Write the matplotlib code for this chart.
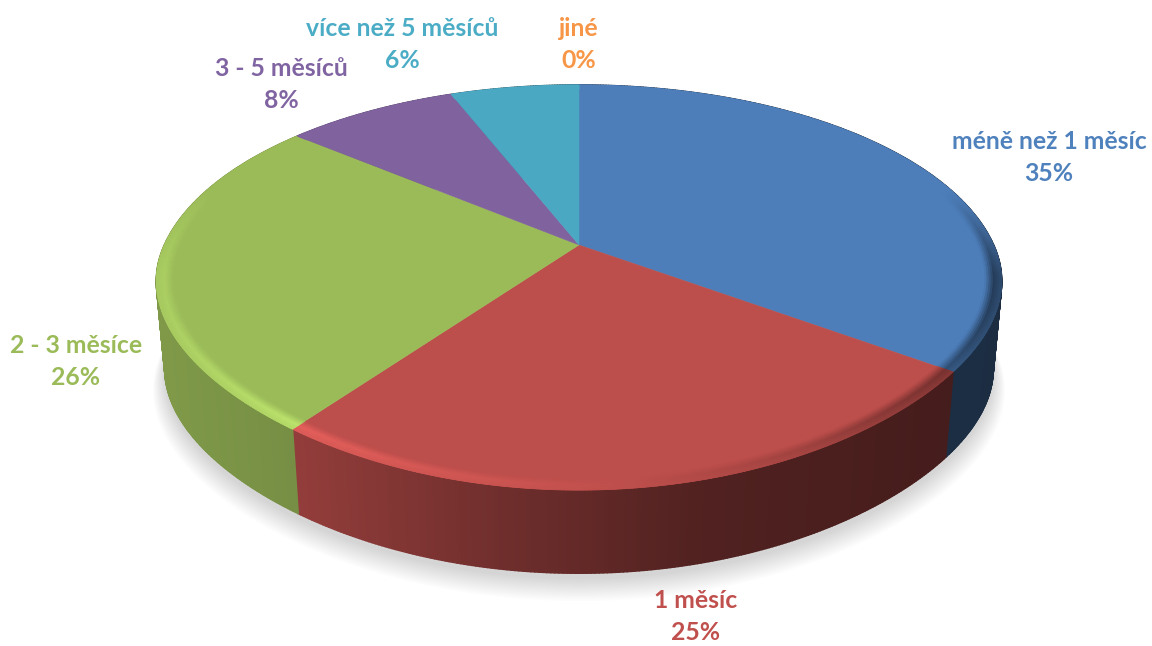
import numpy as np
import matplotlib
matplotlib.use('Agg')
import matplotlib.pyplot as plt
from matplotlib.collections import PolyCollection
from matplotlib.colors import to_rgb

categories = ['méně než 1 měsíc', '1 měsíc', '2 - 3 měsíce', '3 - 5 měsíců', 'více než 5 měsíců', 'jiné']
shares = [35, 25, 26, 8, 6, 0]
percent_labels = ['35%', '25%', '26%', '8%', '6%', '0%']

colors = ['#4f81bd', '#c0504d', '#9bbb59', '#8064a2', '#4bacc6', '#f79646']
top_colors = ['#4d7eba', '#bc4e4b', '#9bbb59', '#80629e', '#4ba8c3', '#f79646']
# centre x and text baseline y of the first label line
label_pos = [(1049, 149), (696, 608), (76, 353), (281, 76), (402, 36), (579, 36)]

# perspective of the pie disk, in pixels of the picture
CX, CY = 579, 245
A, B, P = 414.6, 193.6, 0.21
DEPTH, BOTTOM_SCALE = 88, 0.98


def project(angle, r=1.0, scale=1.0, dy=0.0):
    # angle goes clockwise from the top of the pie
    # the near side of the reference is a bit flatter than a true ellipse
    pull = np.where(np.cos(angle) < 0, 0.022 * np.sin(2 * angle) ** 2, 0.0)
    u = r * (1 - pull) * np.sin(angle)
    v = r * (1 - pull) * np.cos(angle)
    w = 1 + P * v
    return CX + scale * A * u / w, CY + dy - scale * B * v / w


def side_shade(x):
    return np.interp(x, [160, 300, 500, 700, 950, 1000], [0.82, 0.76, 0.58, 0.42, 0.36, 0.35])


def rim_shade(x):
    return np.interp(x, [155, 300, 450, 600, 800, 950, 1003], [1.10, 1.22, 1.12, 1.03, 0.85, 0.62, 0.45])


def mix(base, k):
    return tuple(np.clip(np.array(base) * k, 0, 1))


fig = plt.figure(figsize=(11.52, 6.46), dpi=100)
ax = fig.add_axes([0, 0, 1, 1])
ax.set_xlim(0, 1152)
ax.set_ylim(646, 0)
ax.axis('off')

# soft shadow under the pie
full = np.linspace(0, 2 * np.pi, 360)
for k in np.linspace(0, 1, 14):
    sx, sy = project(full, scale=BOTTOM_SCALE + 0.028 * (1 - k), dy=DEPTH + 6 + 15 * (1 - k))
    ax.fill(sx, sy, color='black', alpha=0.011, lw=0, zorder=1)

edges = np.cumsum([0] + shares) / sum(shares) * 2 * np.pi

# walls
for i in range(len(shares)):
    if shares[i] == 0:
        continue
    base = to_rgb(colors[i])
    n = max(int(shares[i] * 8), 2)
    t = np.linspace(edges[i], edges[i + 1], n + 1)
    tx, ty = project(t)
    bx, by = project(t, scale=BOTTOM_SCALE, dy=DEPTH)
    quads = []
    cols = []
    for j in range(n):
        quads.append([(tx[j], ty[j]), (tx[j + 1], ty[j + 1]), (bx[j + 1], by[j + 1]), (bx[j], by[j])])
        cols.append(mix(base, side_shade((tx[j] + tx[j + 1]) / 2)))
    ax.add_collection(PolyCollection(quads, facecolors=cols, edgecolors=cols, linewidths=1.2, zorder=2))

# top face
for i in range(len(shares)):
    if shares[i] == 0:
        continue
    t = np.linspace(edges[i], edges[i + 1], 200)
    x, y = project(t)
    ax.fill(np.r_[CX, x], np.r_[CY, y], color=top_colors[i], lw=0.3, zorder=3)

# bevelled rim on the near side
radii = np.linspace(0.962, 1.0, 9)
for i in range(len(shares)):
    if shares[i] == 0:
        continue
    base = np.array(to_rgb(top_colors[i]))
    n = max(int(shares[i] * 8), 2)
    t = np.linspace(edges[i], edges[i + 1], n + 1)
    quads = []
    cols = []
    for q in range(len(radii) - 1):
        x0, y0 = project(t, r=radii[q])
        x1, y1 = project(t, r=radii[q + 1])
        strength = np.interp((q + 0.5) / (len(radii) - 1), [0, 0.55, 1], [0, 1, 0.75])
        for j in range(n):
            mid = (t[j] + t[j + 1]) / 2
            weight = np.clip((0.3 - np.cos(mid)) / 0.45, 0, 1) * strength
            k = 1 + (rim_shade((x0[j] + x0[j + 1]) / 2) - 1) * weight
            c = mix(base, k)
            quads.append([(x0[j], y0[j]), (x0[j + 1], y0[j + 1]), (x1[j + 1], y1[j + 1]), (x1[j], y1[j])])
            cols.append(c)
    ax.add_collection(PolyCollection(quads, facecolors=cols, edgecolors=cols, linewidths=0.6, zorder=4))

# labels
for i in range(len(categories)):
    lx, ly = label_pos[i]
    ax.text(lx, ly, categories[i], color=colors[i], family='Lato', weight='bold', fontsize=17.8,
            ha='center', va='baseline', zorder=5)
    ax.text(lx, ly + 32, percent_labels[i], color=colors[i], family='Lato', weight='bold', fontsize=17.8,
            ha='center', va='baseline', zorder=5)

fig.savefig('out.png', dpi=100)
